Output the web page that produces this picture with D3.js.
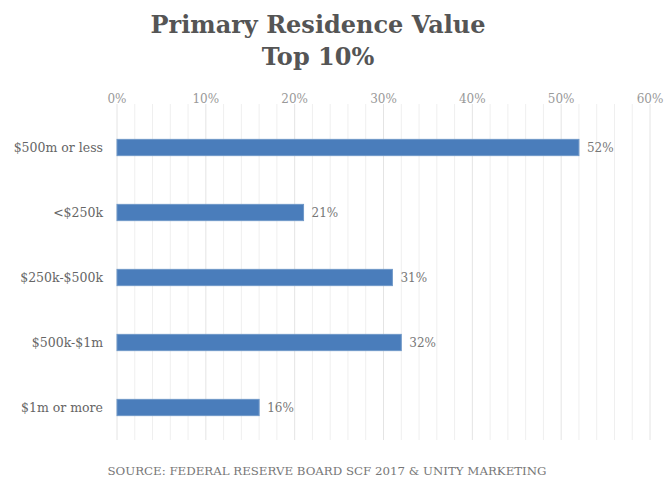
<!DOCTYPE html>
<html>
<head>
<meta charset="utf-8">
<script src="https://cdn.jsdelivr.net/npm/d3@7"></script>
<style>
  body { margin: 0; background: #fff; }
  text { font-family: "DejaVu Serif", "Liberation Serif", serif; }
</style>
</head>
<body>
<main></main>
<script>
const WIDTH = 666
const HEIGHT = 478

// data
const categories = ['$500m or less', '<$250k', '$250k-$500k', '$500k-$1m', '$1m or more']
const values = [52, 21, 31, 32, 16]
const tickValues = [0, 10, 20, 30, 40, 50, 60]
const titleLines = ['Primary Residence Value', 'Top 10%']
const sourceText = 'SOURCE: FEDERAL RESERVE BOARD SCF 2017 & UNITY MARKETING'

const margin = {left: 117, right: 16, top: 115, bottom: 38}

const svg = d3.select('main').append('svg')
  .attr('width', WIDTH)
  .attr('height', HEIGHT)

const x = d3.scaleLinear()
  .domain([0, 60])
  .range([margin.left, 650])

const y = d3.scaleBand()
  .domain(categories)
  .range([margin.top, 440])
  .paddingInner(0.75)
  .paddingOuter(0.375)

// minor gridlines every 2%
svg.append('g')
  .selectAll('line')
  .data(d3.range(0, 61, 2))
  .enter()
  .append('line')
  .attr('x1', d => x(d))
  .attr('x2', d => x(d))
  .attr('y1', 104)
  .attr('y2', 440)
  .style('stroke', d => d % 10 === 0 ? '#e4e4e4' : '#efefef')
  .style('stroke-width', 1)

// top axis labels
svg.append('g')
  .selectAll('text')
  .data(tickValues)
  .enter()
  .append('text')
  .attr('x', d => x(d))
  .attr('y', 103)
  .attr('text-anchor', 'middle')
  .style('font-size', '12px')
  .style('fill', '#999')
  .text(d => d + '%')

// bars
svg.append('g')
  .selectAll('rect')
  .data(values)
  .enter()
  .append('rect')
  .attr('x', x(0))
  .attr('y', (d, i) => y(categories[i]))
  .attr('width', d => x(d) - x(0))
  .attr('height', y.bandwidth())
  .style('fill', '#4a7dbb')
  .style('stroke', '#6f98c8')
  .style('stroke-width', 1)

// value labels
svg.append('g')
  .selectAll('text')
  .data(values)
  .enter()
  .append('text')
  .attr('x', d => x(d) + 8)
  .attr('y', (d, i) => y(categories[i]) + y.bandwidth() / 2 + 4)
  .style('font-size', '12px')
  .style('fill', '#777')
  .text(d => d + '%')

// category labels
svg.append('g')
  .selectAll('text')
  .data(categories)
  .enter()
  .append('text')
  .attr('x', 103)
  .attr('y', d => y(d) + y.bandwidth() / 2 + 4)
  .attr('text-anchor', 'end')
  .style('font-size', '12.5px')
  .style('fill', '#666')
  .text(d => d)

// title
svg.append('g')
  .selectAll('text')
  .data(titleLines)
  .enter()
  .append('text')
  .attr('x', 318)
  .attr('y', (d, i) => 33 + i * 32)
  .attr('text-anchor', 'middle')
  .style('font-size', '24px')
  .style('font-weight', 'bold')
  .style('fill', '#555')
  .text(d => d)

// source
svg.append('text')
  .attr('x', 327)
  .attr('y', 475)
  .attr('text-anchor', 'middle')
  .style('font-size', '11.8px')
  .style('fill', '#777')
  .text(sourceText)
</script>
</body>
</html>
